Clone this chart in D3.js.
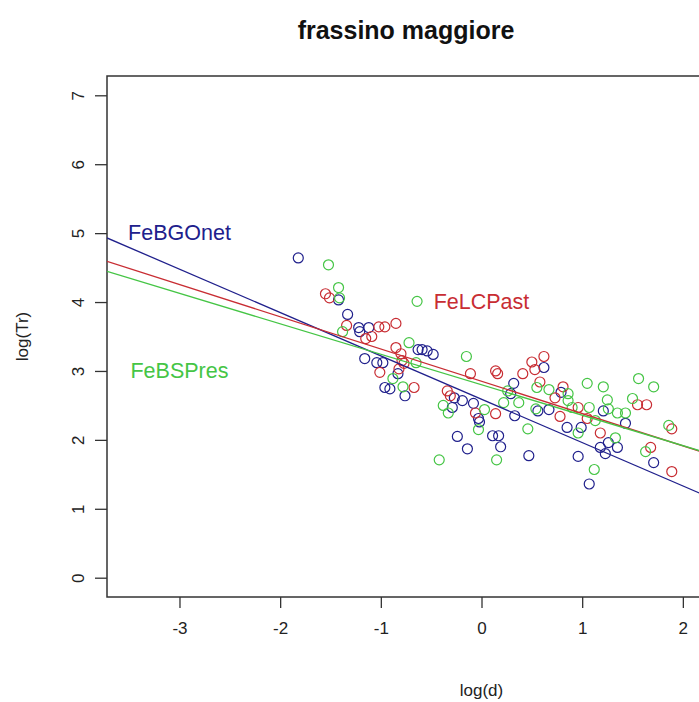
<!DOCTYPE html>
<html>
<head>
<meta charset="utf-8">
<script src="https://cdn.jsdelivr.net/npm/d3@7"></script>
<style>
  body { margin: 0; background: #fff; }
  text { font-family: "Liberation Sans", Arial, sans-serif; }
</style>
</head>
<body>
<svg id="chart" width="699" height="702"></svg>
<script>
// log(d) / log(Tr) observations, one pair of arrays per stand
const febgonetX = [-1.82,-1.42,-1.33,-1.22,-1.21,-1.12,-1.16,-1.04,-0.98,-0.96,-0.91,-0.83,-0.76,-0.63,-0.59,-0.54,-0.48,-0.27,-0.29,-0.19,-0.08,-0.03,-0.02,-0.24,-0.14,0.11,0.17,0.19,0.32,0.29,0.33,0.47,0.62,0.56,0.67,0.79,0.85,0.99,1.21,1.43,1.26,1.35,1.18,1.23,0.96,1.71,1.07];
const febgonetY = [4.64,4.03,3.82,3.63,3.57,3.63,3.18,3.12,3.12,2.76,2.74,2.96,2.64,3.31,3.31,3.29,3.24,2.61,2.47,2.57,2.53,2.31,2.26,2.05,1.87,2.06,2.06,1.90,2.82,2.67,2.35,1.77,3.05,2.42,2.44,2.69,2.18,2.18,2.42,2.24,1.96,1.89,1.89,1.80,1.76,1.67,1.36];

const felcpastX = [-1.55,-1.51,-1.34,-1.15,-1.09,-1.02,-0.96,-0.85,-0.85,-0.80,-0.79,-1.01,-0.82,-0.77,-0.67,-0.34,-0.31,-0.11,-0.06,0.14,0.16,0.14,0.41,0.50,0.53,0.62,0.58,0.81,0.73,0.78,0.96,1.05,1.18,1.55,1.64,1.68,1.89,1.89];
const felcpastY = [4.12,4.06,3.66,3.47,3.50,3.64,3.64,3.69,3.34,3.25,3.15,2.98,3.03,3.11,2.76,2.71,2.64,2.96,2.39,3.00,2.96,2.38,2.96,3.13,3.02,3.21,2.84,2.77,2.61,2.34,2.47,2.31,2.10,2.51,2.51,1.89,2.16,1.54];

const febspresX = [-1.52,-1.42,-1.41,-1.38,-0.88,-0.78,-0.72,-0.64,-0.65,-0.38,-0.33,-0.42,-0.15,-0.03,0.03,0.15,0.22,0.26,0.37,0.46,0.55,0.54,0.67,0.86,0.86,0.90,0.96,1.05,1.21,1.07,1.13,1.25,1.50,1.26,1.35,1.43,1.56,1.71,1.33,1.63,1.12,1.86];
const febspresY = [4.54,4.21,4.06,3.57,2.89,2.77,3.41,4.01,3.12,2.50,2.39,1.71,3.21,2.15,2.44,1.71,2.54,2.71,2.54,2.16,2.76,2.45,2.73,2.67,2.57,2.47,2.10,2.82,2.77,2.47,2.28,2.58,2.60,2.45,2.39,2.39,2.89,2.77,2.03,1.83,1.57,2.21];

// least-squares fits log(Tr) = a + b * log(d)
const fitNames      = ["FeBGOnet", "FeLCPast", "FeBSPres"];
const fitIntercepts = [2.59, 2.85, 2.80];
const fitSlopes     = [-0.629, -0.468, -0.442];
// label anchors (data units), text centred on them
const labelX = [-3, 0, -3];
const labelY = [5, 4, 3];

const xTicks = [-3, -2, -1, 0, 1, 2];
const yTicks = [0, 1, 2, 3, 4, 5, 6, 7];

const colours = ["#20208c", "#c82d33", "#45c545"];
const series = [
  { xs: febgonetX, ys: febgonetY },
  { xs: felcpastX, ys: felcpastY },
  { xs: febspresX, ys: febspresY }
];

const svg = d3.select("#chart");
svg.append("rect").attr("width", 699).attr("height", 702).attr("fill", "#fff");

const plot = { left: 107, right: 705, top: 76, bottom: 597 };
// xlim c(-3.5, 2) and ylim c(0, 7) with the usual 4% padding
const x = d3.scaleLinear().domain([-3.72, 2.22]).range([plot.left, plot.right]);
const y = d3.scaleLinear().domain([-0.28, 7.28]).range([plot.bottom, plot.top]);

svg.append("defs").append("clipPath").attr("id", "plotclip")
  .append("rect")
  .attr("x", plot.left).attr("y", plot.top)
  .attr("width", plot.right - plot.left).attr("height", plot.bottom - plot.top);

// axes
const xAxis = d3.axisBottom(x).tickValues(xTicks).tickSize(11).tickPadding(14)
  .tickFormat(d3.format("d"));
const gx = svg.append("g").attr("transform", `translate(0,${plot.bottom})`).call(xAxis);
gx.select(".domain").remove();
gx.selectAll("line").attr("stroke", "#333").attr("stroke-width", 1.3);
gx.selectAll("text").attr("font-size", 17).attr("fill", "#222")
  .text(d => d < 0 ? "-" + Math.abs(d) : d);

const yAxis = d3.axisLeft(y).tickValues(yTicks).tickSize(12).tickPadding(0)
  .tickFormat(d3.format("d"));
const gy = svg.append("g").attr("transform", `translate(${plot.left},0)`).call(yAxis);
gy.select(".domain").remove();
gy.selectAll("line").attr("stroke", "#333").attr("stroke-width", 1.3);
gy.selectAll("text")
  .attr("font-size", 17).attr("fill", "#222")
  .attr("text-anchor", "middle")
  .attr("x", 0).attr("dy", 0)
  .attr("transform", "translate(-29,0) rotate(-90)")
  .attr("dominant-baseline", "central");

// plot box
svg.append("rect")
  .attr("x", plot.left).attr("y", plot.top)
  .attr("width", plot.right - plot.left).attr("height", plot.bottom - plot.top)
  .attr("fill", "none").attr("stroke", "#333").attr("stroke-width", 1.5);

const inner = svg.append("g").attr("clip-path", "url(#plotclip)");

// observations
series.forEach((s, i) => {
  inner.append("g").selectAll("circle")
    .data(d3.range(s.xs.length))
    .join("circle")
    .attr("cx", k => x(s.xs[k]))
    .attr("cy", k => y(s.ys[k]))
    .attr("r", 5)
    .attr("fill", "none")
    .attr("stroke", colours[i])
    .attr("stroke-width", 1.2);
});

// regression lines across the full x range
const [x0, x1] = x.domain();
fitNames.forEach((name, i) => {
  inner.append("line")
    .attr("x1", x(x0)).attr("y1", y(fitIntercepts[i] + fitSlopes[i] * x0))
    .attr("x2", x(x1)).attr("y2", y(fitIntercepts[i] + fitSlopes[i] * x1))
    .attr("stroke", colours[i]).attr("stroke-width", 1.3);
});

// stand labels
fitNames.forEach((name, i) => {
  svg.append("text")
    .attr("x", x(labelX[i])).attr("y", y(labelY[i]))
    .attr("text-anchor", "middle").attr("dominant-baseline", "central")
    .attr("font-size", 21.5).attr("fill", colours[i])
    .text(name);
});

// titles
svg.append("text")
  .attr("x", (plot.left + plot.right) / 2).attr("y", 30)
  .attr("text-anchor", "middle").attr("dominant-baseline", "central")
  .attr("font-size", 25).attr("font-weight", "bold").attr("fill", "#111")
  .text("frassino maggiore");

svg.append("text")
  .attr("x", x(0)).attr("y", 690)
  .attr("text-anchor", "middle").attr("dominant-baseline", "central")
  .attr("font-size", 17).attr("fill", "#222")
  .text("log(d)");

svg.append("text")
  .attr("transform", `translate(22,${(plot.top + plot.bottom) / 2}) rotate(-90)`)
  .attr("text-anchor", "middle").attr("dominant-baseline", "central")
  .attr("font-size", 17).attr("fill", "#222")
  .text("log(Tr)");
</script>
</body>
</html>
